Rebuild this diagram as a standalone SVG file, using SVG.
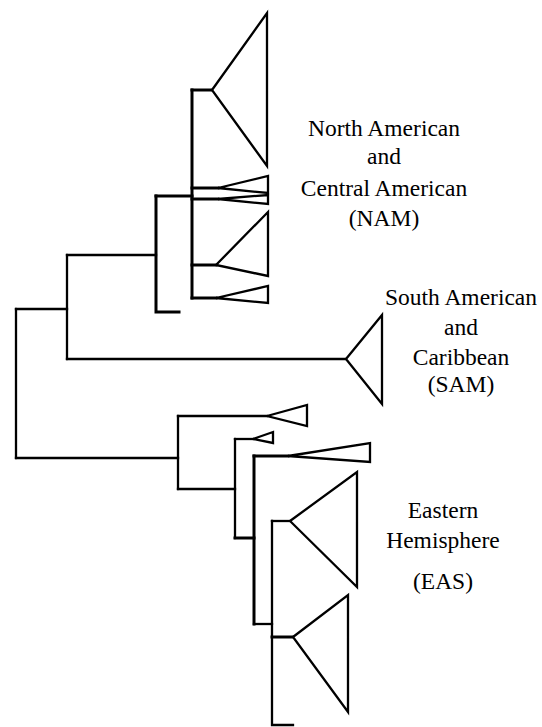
<svg xmlns="http://www.w3.org/2000/svg" width="542" height="727" viewBox="0 0 542 727">
<style>
.e{fill:none;stroke:#000;stroke-width:2.3;stroke-linecap:square;stroke-linejoin:miter}
.k{stroke-width:3}
.c{fill:#fff;stroke:#000;stroke-width:2.3;stroke-linejoin:miter}
.t{font-size:23.5px;fill:#000;text-anchor:middle}
</style>
<rect width="542" height="727" fill="#fff"/>
<g id="connectors">
<path class="e" d="M16,309 V458"/>
<path class="e" d="M16,309 H67"/>
<path class="e" d="M16,458 H178"/>
<path class="e" d="M67,255 V359"/>
<path class="e" d="M67,255 H156"/>
<path class="e" d="M67,359 H346"/>
<path class="e k" d="M156,196 V312 H179"/>
<path class="e k" d="M156,196 H192"/>
<path class="e k" d="M192,90 V298"/>
<path class="e k" d="M192,90 H212"/>
<path class="e k" d="M192,188 H218"/>
<path class="e k" d="M192,199 H218"/>
<path class="e k" d="M192,265 H216"/>
<path class="e k" d="M192,298 H216"/>
<path class="e" d="M178,416 V489"/>
<path class="e" d="M178,416 H267"/>
<path class="e" d="M178,489 H235"/>
<path class="e" d="M235,439 V538"/>
<path class="e" d="M235,439 H253"/>
<path class="e k" d="M235,538 H254"/>
<path class="e k" d="M254,456 V624"/>
<path class="e k" d="M254,456 H288"/>
<path class="e" d="M254,624 H272"/>
<path class="e" d="M272,521 V725 H293"/>
<path class="e" d="M272,521 H290"/>
<path class="e k" d="M272,637 H293"/>
</g>
<g id="nam-clade-1"><polygon class="c" points="212,90 267,13 267,166"/></g>
<g id="nam-clade-2"><polygon class="c" points="218,188 268,176 268,193"/></g>
<g id="nam-clade-3"><polygon class="c" points="218,199 268,195 268,204"/></g>
<g id="nam-clade-4"><polygon class="c" points="216,265 268,212 268,276"/></g>
<g id="nam-clade-5"><polygon class="c" points="216,298 268,286 268,303"/></g>
<g id="sam-clade"><polygon class="c" points="346,359 382,315 382,404"/></g>
<g id="eas-clade-1"><polygon class="c" points="267,416 307,405 307,426"/></g>
<g id="eas-clade-2"><polygon class="c" points="253,439 273,432 273,443"/></g>
<g id="eas-clade-3"><polygon class="c" points="288,456 370,443 370,462"/></g>
<g id="eas-clade-4"><polygon class="c" points="290,521 357,472 357,587"/></g>
<g id="eas-clade-5"><polygon class="c" points="293,637 348,595 348,712"/></g>
<g font-family="'Liberation Serif', 'Times New Roman', 'DejaVu Serif', serif">
<g id="label-nam">
<text class="t" x="384" y="136">North American</text>
<text class="t" x="384" y="164">and</text>
<text class="t" x="384" y="196">Central American</text>
<text class="t" x="384" y="226">(NAM)</text>
</g>
<g id="label-sam">
<text class="t" x="461" y="305">South American</text>
<text class="t" x="461" y="335">and</text>
<text class="t" x="461" y="365">Caribbean</text>
<text class="t" x="461" y="392">(SAM)</text>
</g>
<g id="label-eas">
<text class="t" x="443" y="518">Eastern</text>
<text class="t" x="443" y="548">Hemisphere</text>
<text class="t" x="443" y="589">(EAS)</text>
</g>
</g>
</svg>
